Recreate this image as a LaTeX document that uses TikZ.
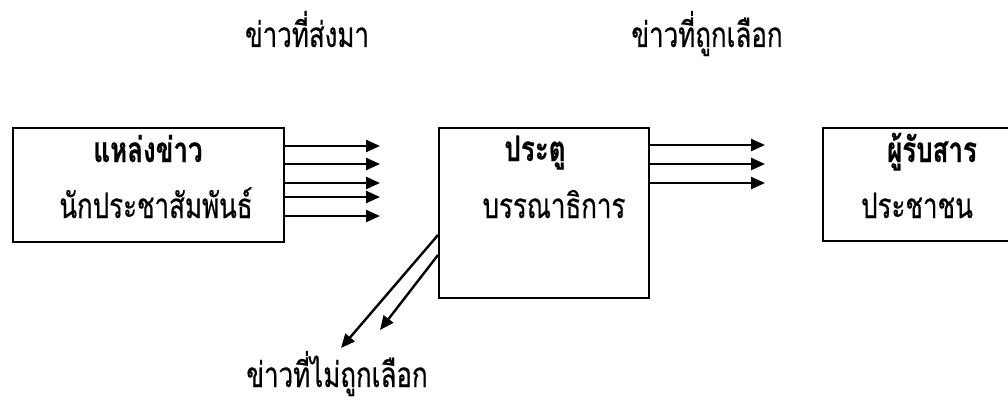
\documentclass[tikz,border=0pt]{standalone}
\usepackage{fontspec}
\newfontfamily\thai[Script=Thai, FakeStretch=0.74, FakeBold=0.5]{Loma}
\usetikzlibrary{arrows.meta}
\begin{document}
\begin{tikzpicture}[x=1pt,y=-1pt,
  box/.style={draw=black, line width=1.6pt, anchor=north west, inner sep=0pt},
  arr/.style={draw=black, line width=2.4pt, -{Triangle[length=14pt,width=12pt]}},
  lbl/.style={anchor=base, inner sep=0pt, font=\thai\fontsize{35}{37}\selectfont},
  blbl/.style={lbl, font=\thai\bfseries\fontsize{35}{37}\selectfont}]
\useasboundingbox (0,0) rectangle (1008,404);
\fill[white] (0,0) rectangle (1008,404);
% boxes
\node[box, minimum width=271pt, minimum height=114pt] (src) at (12,127) {};
\node[box, minimum width=210pt, minimum height=170pt] (gate) at (438,127) {};
\node[box, minimum width=210pt, minimum height=113pt] (recv) at (822,127) {};
% box texts
\node[blbl] (t1) at (148,162) {แหล่งข่าว};
\node[lbl]  (t2) at (156,218) {นักประชาสัมพันธ์};
\node[blbl] (t3) at (535,161) {ประตู};
\node[lbl]  (t4) at (554,218) {บรรณาธิการ};
\node[blbl] (t5) at (932,162) {ผู้รับสาร};
\node[lbl]  (t6) at (917,218) {ประชาชน};
% labels
\node[lbl] (l1) at (307,47) {ข่าวที่ส่งมา};
\node[lbl] (l2) at (707,47) {ข่าวที่ถูกเลือก};
\node[lbl] (l3) at (337,387) {ข่าวที่ไม่ถูกเลือก};
% arrow ends
\coordinate (a1) at (380,146);
\coordinate (a2) at (380,164);
\coordinate (a3) at (380,183);
\coordinate (a4) at (380,197);
\coordinate (a5) at (380,216);
\coordinate (b1) at (765,145);
\coordinate (b2) at (765,164);
\coordinate (b3) at (765,183);
\coordinate (d1) at (341,348);
\coordinate (d2) at (380,330);
\foreach \c in {a1,a2,a3,a4,a5} \draw[arr] (src.east |- \c) -- (\c);
\foreach \c in {b1,b2,b3} \draw[arr] (gate.east |- \c) -- (\c);
\draw[arr] (gate.west |- 0,235) -- (d1);
\draw[arr] (gate.west |- 0,255) -- (d2);
\end{tikzpicture}
\end{document}
